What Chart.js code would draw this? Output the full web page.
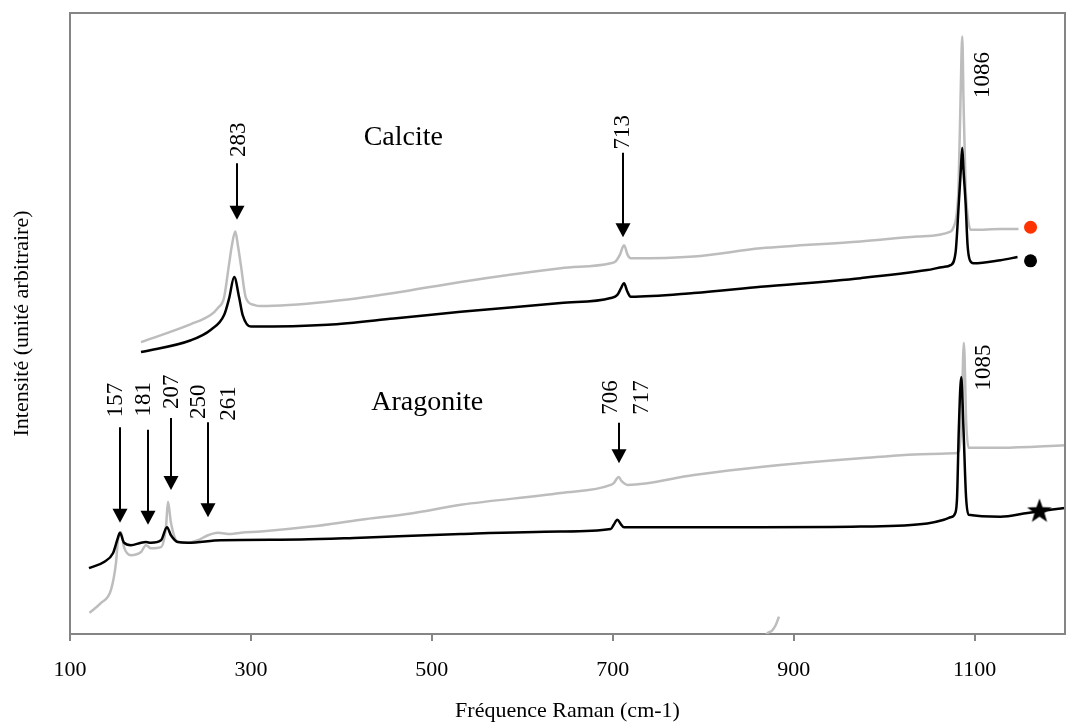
<!DOCTYPE html>
<html>
<head>
<meta charset="utf-8">
<script src="https://cdn.jsdelivr.net/npm/chart.js@4/dist/chart.umd.min.js"></script>
<style>
  body { margin: 0; background: #fff; }
</style>
</head>
<body>
<canvas id="ramanChart" width="1066" height="722"></canvas>
<script>
// Raman spectra (intensity in arbitrary units)
const calciteGrayX = [178.5, 233.7, 255.8, 263.5, 270.2, 275.7, 279.0, 282.7, 285.6, 288.9, 294.5, 303.3, 311.0, 384.8, 458.0, 532.0, 642.5, 697.8, 703.3, 707.7, 712.5, 716.6, 719.9, 789.5, 863.5, 974.0, 1036.7, 1073.5, 1076.8, 1080.1, 1082.3, 1084.5, 1086.4, 1087.8, 1090.1, 1092.3, 1095.6, 1098.9, 1128.7, 1148.6];
const calciteGrayY = [47.0, 49.9, 51.4, 52.5, 54.1, 59.4, 62.6, 64.8, 62.6, 59.4, 54.1, 53.0, 52.8, 53.5, 54.9, 56.7, 58.9, 59.7, 60.0, 61.0, 62.6, 61.0, 60.5, 60.8, 62.1, 63.2, 64.0, 64.8, 65.5, 67.5, 72.0, 86.0, 96.2, 86.0, 72.0, 67.5, 65.1, 65.1, 65.2, 65.2];

const calciteBlackX = [178.5, 233.7, 255.8, 270.5, 276.0, 281.5, 287.1, 290.8, 300.0, 384.8, 458.0, 532.0, 642.5, 697.8, 705.1, 708.9, 712.5, 716.0, 719.9, 789.5, 863.5, 974.0, 1047.7, 1065.7, 1073.5, 1079.0, 1082.6, 1084.8, 1086.4, 1087.8, 1090.1, 1092.3, 1094.8, 1098.9, 1128.7, 1147.5];
const calciteBlackY = [45.4, 47.3, 49.0, 51.4, 54.1, 57.5, 54.1, 51.4, 49.5, 49.8, 50.8, 51.9, 53.3, 54.1, 54.6, 55.6, 56.5, 55.2, 54.3, 54.9, 55.9, 57.3, 58.6, 59.1, 59.4, 61.4, 69.4, 74.7, 78.3, 74.7, 69.4, 62.6, 60.2, 59.7, 60.2, 60.7];

const aragoniteGrayX = [121.5, 134.3, 145.3, 150.8, 153.0, 156.4, 159.7, 167.4, 178.5, 184.0, 189.5, 200.6, 206.1, 208.3, 211.6, 219.3, 230.4, 241.4, 252.5, 263.5, 277.9, 289.0, 311.0, 366.3, 421.5, 476.8, 532.0, 642.5, 697.8, 701.1, 706.6, 709.9, 716.6, 789.8, 863.5, 974.0, 1051.4, 1079.0, 1082.5, 1085.5, 1088.2, 1090.8, 1093.4, 1128.7, 1200];
const aragoniteGrayY = [3.4, 5.0, 7.1, 11.4, 15.1, 16.4, 14.0, 12.7, 13.2, 14.3, 13.8, 14.0, 17.2, 21.3, 17.9, 14.8, 14.7, 15.1, 15.9, 16.3, 16.1, 16.3, 16.5, 17.3, 18.4, 19.4, 20.8, 22.7, 24.0, 24.3, 25.3, 24.6, 24.0, 25.6, 26.9, 28.3, 29.0, 29.1, 29.4, 34.0, 46.9, 34.0, 30.0, 30.0, 30.4];

const aragoniteBlackX = [121.0, 137.6, 147.5, 153.0, 155.2, 159.7, 167.4, 178.5, 184.0, 189.5, 200.6, 207.2, 211.6, 219.3, 230.4, 266.9, 355.2, 421.5, 532.0, 642.5, 697.8, 701.1, 705.1, 708.9, 712.5, 863.5, 974.0, 1047.7, 1066.1, 1073.5, 1079.0, 1080.7, 1082.6, 1085.3, 1087.8, 1090.6, 1093.4, 1128.7, 1158.6, 1200];
const aragoniteBlackY = [10.6, 11.6, 13.0, 15.5, 16.3, 14.7, 14.3, 14.7, 14.8, 14.7, 15.1, 17.2, 15.9, 14.8, 14.7, 15.1, 15.2, 15.5, 16.1, 16.5, 16.9, 17.6, 18.4, 17.7, 17.2, 17.2, 17.3, 17.8, 18.4, 18.8, 19.6, 22.1, 32.9, 41.4, 32.9, 22.1, 19.2, 18.9, 19.5, 20.3];

// short grey stroke rising from the x axis near 880
const strayX = [866, 870.9, 876.4, 880.1, 883.8];
const strayY = [-1, 0.1, 0.6, 1.4, 2.8];

// end markers
const redDotX = [1161.9], redDotY = [65.5];
const blackDotX = [1161.9], blackDotY = [60.1];
const starX = [1171.8], starY = [19.9];

const xTicks = [100, 300, 500, 700, 900, 1100];

// arrows pointing at peaks
const arrowX = [284.5, 711.0, 155.2, 186.2, 211.6, 252.5, 706.6];
const arrowTop = [75.8, 77.5, 33.3, 32.9, 34.8, 34.1, 34.0];
const arrowTip = [66.7, 63.9, 17.9, 17.6, 23.2, 18.8, 27.5];

// peak labels (vertical text)
const peakText = ['283', '713', '1086', '157', '181', '207', '250', '261', '706', '717', '1085'];
const peakLabelX = [286.3, 711.0, 1109.4, 150.8, 182.3, 212.7, 243.1, 276.2, 697.8, 732.0, 1110.3];
const peakLabelY = [79.6, 80.8, 90.0, 37.7, 37.8, 39.0, 37.4, 37.1, 38.1, 38.1, 42.9];

const mineralText = ['Calcite', 'Aragonite'];
const mineralX = [468.5, 495.0];
const mineralY = [78.7, 36.1];

const serif = "'Liberation Serif', 'DejaVu Serif', serif";
const toPoints = (xs, ys) => xs.map((x, i) => ({x: x, y: ys[i]}));

function lineSet(xs, ys, color, order) {
    return {
        data: toPoints(xs, ys),
        borderColor: color,
        borderWidth: 2.5,
        pointRadius: 0,
        cubicInterpolationMode: 'monotone',
        fill: false,
        order: order
    };
}

// filled five-point star for the aragonite marker
function makeStar(size) {
    const c = document.createElement('canvas');
    c.width = size; c.height = size;
    const g = c.getContext('2d');
    const cx = size / 2, cy = size / 2 + 1, R = size / 2, r = R * 0.4;
    g.beginPath();
    for (let i = 0; i < 10; i++) {
        const rad = i % 2 === 0 ? R : r;
        const a = -Math.PI / 2 + i * Math.PI / 5;
        g.lineTo(cx + rad * Math.cos(a), cy + rad * Math.sin(a));
    }
    g.closePath();
    g.fillStyle = '#000';
    g.fill();
    return c;
}

const annotations = {
    id: 'annotations',
    afterDatasetsDraw(chart) {
        const {ctx, chartArea: a, scales: {x, y}} = chart;
        ctx.save();
        // top and right frame
        ctx.strokeStyle = '#858585';
        ctx.lineWidth = 2;
        ctx.beginPath();
        ctx.moveTo(a.left, a.top);
        ctx.lineTo(a.right, a.top);
        ctx.lineTo(a.right, a.bottom);
        ctx.stroke();

        // arrows
        ctx.strokeStyle = '#000';
        ctx.fillStyle = '#000';
        arrowX.forEach((v, i) => {
            const px = Math.round(x.getPixelForValue(v));
            const y0 = y.getPixelForValue(arrowTop[i]);
            const y1 = y.getPixelForValue(arrowTip[i]);
            ctx.lineWidth = 2;
            ctx.beginPath();
            ctx.moveTo(px, y0);
            ctx.lineTo(px, y1 - 12);
            ctx.stroke();
            ctx.beginPath();
            ctx.moveTo(px - 7.5, y1 - 14);
            ctx.lineTo(px + 7.5, y1 - 14);
            ctx.lineTo(px, y1);
            ctx.closePath();
            ctx.fill();
        });

        // vertical peak labels
        ctx.font = '23px ' + serif;
        ctx.textAlign = 'center';
        ctx.textBaseline = 'middle';
        peakText.forEach((t, i) => {
            ctx.save();
            ctx.translate(x.getPixelForValue(peakLabelX[i]), y.getPixelForValue(peakLabelY[i]));
            ctx.rotate(-Math.PI / 2);
            ctx.fillText(t, 0, 0);
            ctx.restore();
        });

        // mineral names
        ctx.font = '28px ' + serif;
        ctx.textBaseline = 'alphabetic';
        mineralText.forEach((t, i) => {
            ctx.fillText(t, x.getPixelForValue(mineralX[i]), y.getPixelForValue(mineralY[i]));
        });
        ctx.restore();
    }
};

new Chart(document.getElementById('ramanChart'), {
    type: 'line',
    data: {
        datasets: [
            lineSet(calciteGrayX, calciteGrayY, '#bdbdbd', 2),
            lineSet(calciteBlackX, calciteBlackY, '#000000', 1),
            lineSet(aragoniteGrayX, aragoniteGrayY, '#bdbdbd', 2),
            lineSet(aragoniteBlackX, aragoniteBlackY, '#000000', 1),
            lineSet(strayX, strayY, '#bdbdbd', 2),
            {
                data: toPoints(redDotX, redDotY),
                showLine: false, pointRadius: 6.5, pointStyle: 'circle',
                backgroundColor: '#ff3300', borderWidth: 0, order: 0
            },
            {
                data: toPoints(blackDotX, blackDotY),
                showLine: false, pointRadius: 6.5, pointStyle: 'circle',
                backgroundColor: '#000', borderWidth: 0, order: 0
            },
            {
                data: toPoints(starX, starY),
                showLine: false, pointStyle: makeStar(26), order: 0
            }
        ]
    },
    options: {
        responsive: false,
        animation: false,
        events: [],
        layout: { autoPadding: false, padding: { top: 13, right: 1, left: 0, bottom: 0 } },
        plugins: {
            legend: { display: false },
            tooltip: { enabled: false }
        },
        scales: {
            x: {
                type: 'linear',
                min: 100,
                max: 1200,
                afterBuildTicks: s => { s.ticks = xTicks.map(v => ({value: v})); },
                afterFit: s => { s.height = 88; s.paddingLeft = 0; s.paddingRight = 0; },
                ticks: {
                    color: '#000',
                    padding: 16,
                    maxRotation: 0,
                    callback: v => String(v),
                    font: { family: serif, size: 22 }
                },
                grid: {
                    drawOnChartArea: false,
                    drawTicks: true,
                    tickLength: 7,
                    color: '#858585',
                    lineWidth: 2
                },
                border: { display: true, color: '#858585', width: 2 },
                title: {
                    display: true,
                    text: 'Fréquence Raman (cm-1)',
                    color: '#000',
                    padding: 0,
                    font: { family: serif, size: 22, lineHeight: 1 }
                }
            },
            y: {
                min: 0,
                max: 100,
                afterFit: s => { s.width = 70; },
                ticks: { display: false },
                grid: { display: false },
                border: { display: true, color: '#858585', width: 2 },
                title: {
                    display: true,
                    text: 'Intensité (unité arbitraire)',
                    color: '#000',
                    padding: { top: 11, bottom: 0 },
                    font: { family: serif, size: 22, lineHeight: 1 }
                }
            }
        }
    },
    plugins: [annotations]
});
</script>
</body>
</html>
